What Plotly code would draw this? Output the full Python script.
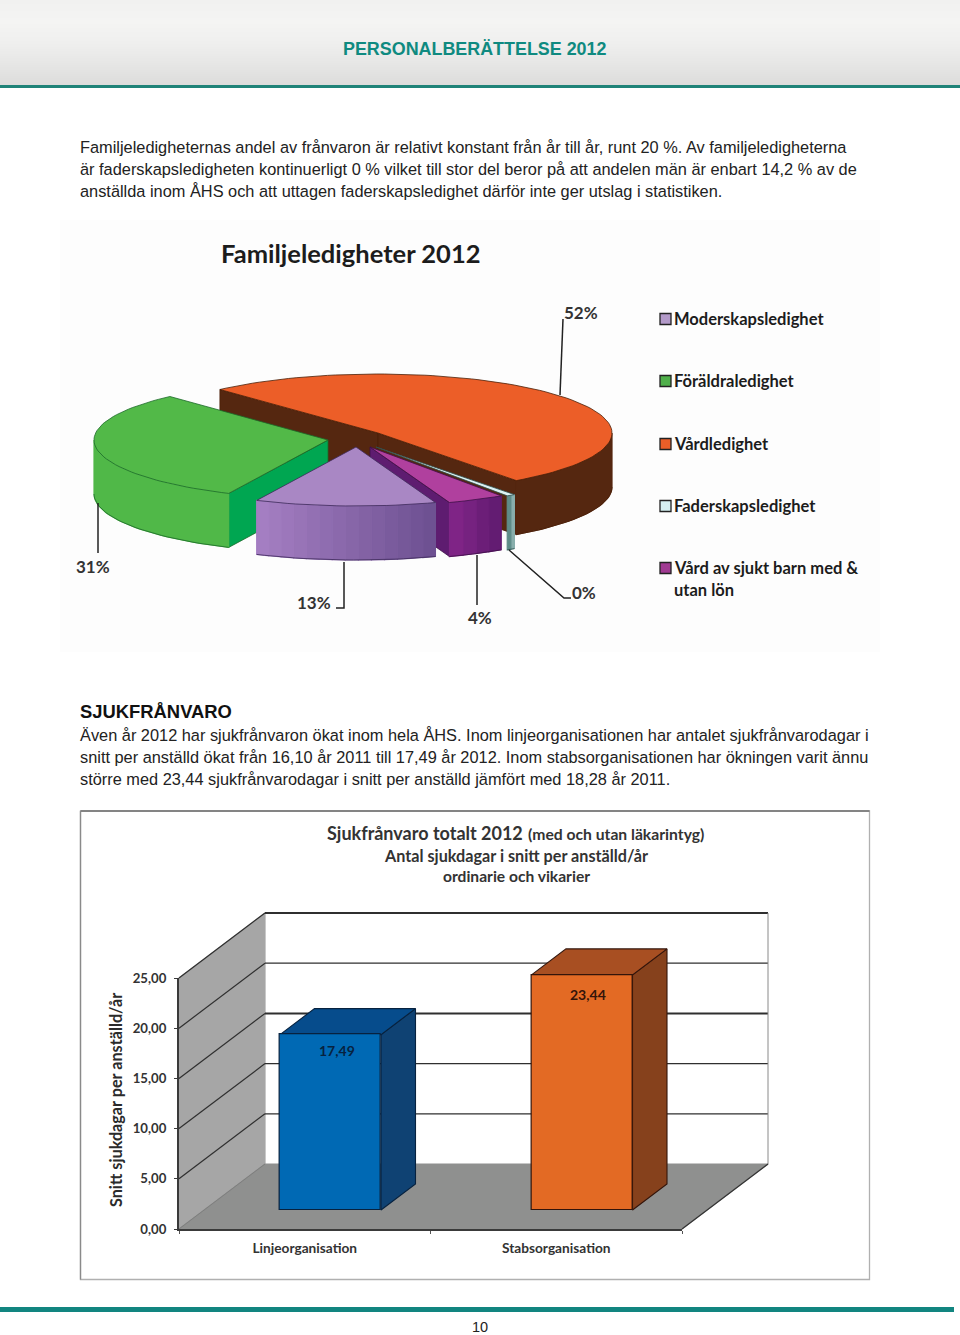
import math
import plotly.graph_objects as go

# ---------- data ----------
pie_categories = ["Vårdledighet", "Faderskapsledighet", "Vård av sjukt barn med & utan lön", "Moderskapsledighet", "Föräldraledighet"]
pie_shares = [52.2, 0.6, 4, 12.6, 31.5]
pie_labels = ["52%", "0%", "4%", "13%", "31%"]
legend_order = ["Moderskapsledighet", "Föräldraledighet", "Vårdledighet", "Faderskapsledighet", "Vård av sjukt barn med & utan lön"]
bar_categories = ["Linjeorganisation", "Stabsorganisation"]
bar_values = [17.49, 23.44]
y_ticks = [0, 5, 10, 15, 20, 25]

body_top = [
    "Familjeledigheternas andel av frånvaron är relativt konstant från år till år, runt 20 %. Av familjeledigheterna",
    "är faderskapsledigheten kontinuerligt 0 % vilket till stor del beror på att andelen män är enbart 14,2 % av de",
    "anställda inom ÅHS och att uttagen faderskapsledighet därför inte ger utslag i statistiken.",
]
body_bottom = [
    "Även år 2012 har sjukfrånvaron ökat inom hela ÅHS. Inom linjeorganisationen har antalet sjukfrånvarodagar i",
    "snitt per anställd ökat från 16,10 år 2011 till 17,49 år 2012. Inom stabsorganisationen har ökningen varit ännu",
    "större med 23,44 sjukfrånvarodagar i snitt per anställd jämfört med 18,28 år 2011.",
]

# ---------- style / layout ----------
W, H = 960, 1335
BODY = "Liberation Sans"
CHART = "Lato"
TEAL = "#0f8a80"
A, B, DEPTH = 234, 59, 54
START = -42.5
slice_style = {
    "Vårdledighet": dict(c=(378, 433), top="#EC5E28", cut="#552710", arc=("#552710", "#552710"), edge="#4a2008"),
    "Faderskapsledighet": dict(c=(376, 447), top="#DDF2F3", cut=None, arc=("#9CC0BE", "#4A7A76"), edge="#2f4f4c"),
    "Vård av sjukt barn med & utan lön": dict(c=(370, 447), top="#B0409E", cut="#5E1C70", arc=("#5E1A6E", "#84268A"), edge="#3d1048"),
    "Moderskapsledighet": dict(c=(356, 447), top="#A987C4", cut=None, arc=("#6C4F90", "#A680C4"), edge="#3d2a5a"),
    "Föräldraledighet": dict(c=(328, 440), top="#52B948", cut="#00A651", arc=("#50B848", "#50B848"), edge="#1c6a2a"),
}
legend_colors = {"Moderskapsledighet": "#B39AC9", "Föräldraledighet": "#4FAF4A", "Vårdledighet": "#EC5E28",
                 "Faderskapsledighet": "#D5F0F2", "Vård av sjukt barn med & utan lön": "#A03A92"}

fig = go.Figure()
shapes, notes = [], []


def poly(xs, ys, fill, line=None, width=0.8):
    fig.add_trace(go.Scatter(x=list(xs) + [xs[0]], y=list(ys) + [ys[0]], mode="lines", fill="toself",
                             fillcolor=fill, line=dict(color=line or fill, width=width if line else 1.2),
                             hoverinfo="skip", showlegend=False))


def path(xs, ys, color, width=1.5):
    fig.add_trace(go.Scatter(x=xs, y=ys, mode="lines", line=dict(color=color, width=width),
                             hoverinfo="skip", showlegend=False))


def text(x, y, s, size, color="#111111", family=BODY, bold=False, anchor="left", angle=0):
    notes.append(dict(x=x, y=y, xref="x", yref="y", text=s, showarrow=False, xanchor=anchor, yanchor="middle",
                      textangle=angle,
                      font=dict(family=family, size=size, color=color, weight=700 if bold else 400)))


def mix(c1, c2, t):
    a = [int(c1[i:i + 2], 16) for i in (1, 3, 5)]
    b = [int(c2[i:i + 2], 16) for i in (1, 3, 5)]
    return "#%02x%02x%02x" % tuple(round(p + (q - p) * t) for p, q in zip(a, b))


# ---------- page furniture ----------
top_band = ["#f1f1f0", "#f4f4f3", "#efefee", "#e6e6e5", "#dcdcdb"]
for y in range(0, 86):
    t = y / 85 * (len(top_band) - 1)
    i = min(int(t), len(top_band) - 2)
    shapes.append(dict(type="rect", xref="x", yref="y", x0=0, x1=W, y0=y, y1=y + 1, layer="below", line_width=0,
                       fillcolor=mix(top_band[i], top_band[i + 1], t - i)))
shapes.append(dict(type="rect", xref="x", yref="y", x0=0, x1=W, y0=85, y1=88, layer="below", line_width=0, fillcolor="#1f8378"))
shapes.append(dict(type="rect", xref="x", yref="y", x0=0, x1=954, y0=1307, y1=1312, layer="below", line_width=0, fillcolor="#128580"))
shapes.append(dict(type="rect", xref="x", yref="y", x0=60, x1=880, y0=220, y1=652, layer="below", line_width=0, fillcolor="#fdfdfd"))
text(475, 49, "PERSONALBERÄTTELSE 2012", 17.9, TEAL, bold=True, anchor="center")
for y, s in zip((147, 169, 191), body_top):
    text(78, y, s, 16.35, "#222222")
text(78, 711, "SJUKFRÅNVARO", 18.4, "#111111", bold=True)
for y, s in zip((735, 757, 779), body_bottom):
    text(78, y, s, 16.35, "#222222")
text(480, 1327, "10", 14.5, "#222222", anchor="center")

# ---------- pie, projected from the shares ----------
total = sum(pie_shares)
spans = {}
ang = START
for name, share in zip(pie_categories, pie_shares):
    spans[name] = (ang, ang + share / total * 360)
    ang = spans[name][1]


def rim(c, deg, dz=0):
    r = math.radians(deg)
    return c[0] + A * math.sin(r), c[1] - B * math.cos(r) + dz


def arc_pts(c, a0, a1, dz=0):
    n = max(3, int(abs(a1 - a0) / 2))
    pts = [rim(c, a0 + (a1 - a0) * k / n, dz) for k in range(n + 1)]
    return [p[0] for p in pts], [p[1] for p in pts]


def wall(c, deg, fill, edge):
    p = rim(c, deg)
    poly([c[0], p[0], p[0], c[0]], [c[1], p[1], p[1] + DEPTH, c[1] + DEPTH], fill, edge)


def side(c, a0, a1, cols, edge):
    a0, a1 = max(a0, 90), min(a1, 270)
    steps = 1 if cols[0] == cols[1] else max(2, int((a1 - a0) / 3))
    for k in range(steps):
        u0, u1 = a0 + (a1 - a0) * k / steps, a0 + (a1 - a0) * (k + 1) / steps
        xa, ya = arc_pts(c, u0, u1)
        xb, yb = arc_pts(c, u1, u0, DEPTH)
        poly(xa + xb, ya + yb, mix(cols[0], cols[1], (k + .5) / steps))
    xb, yb = arc_pts(c, a0, a1, DEPTH)
    path(xb, yb, edge, 0.8)


def top(c, a0, a1, fill, edge):
    xa, ya = arc_pts(c, a0, a1)
    poly([c[0]] + xa, [c[1]] + ya, fill, edge)


# painter's order, back to front
n = "Vårdledighet"; s = slice_style[n]; a0, a1 = spans[n]
wall(s["c"], a0, s["cut"], s["edge"]); wall(s["c"], a1, s["cut"], s["edge"])
side(s["c"], a0, a1, s["arc"], s["edge"])
top(s["c"], a0, a1, s["top"], s["edge"])
n = "Faderskapsledighet"; s = slice_style[n]; a0, a1 = spans[n]
side(s["c"], a0, a1, s["arc"], s["edge"]); top(s["c"], a0, a1, s["top"], s["edge"])
n = "Vård av sjukt barn med & utan lön"; s = slice_style[n]; a0, a1 = spans[n]
wall(s["c"], a1, s["cut"], s["edge"]); side(s["c"], a0, a1, s["arc"], s["edge"]); top(s["c"], a0, a1, s["top"], s["edge"])
n = "Föräldraledighet"; s = slice_style[n]; a0, a1 = spans[n]
wall(s["c"], a0, s["cut"], s["edge"]); side(s["c"], a0, a1, s["arc"], s["edge"]); top(s["c"], a0, a1, s["top"], s["edge"])
n = "Moderskapsledighet"; s = slice_style[n]; a0, a1 = spans[n]
side(s["c"], a0, a1, s["arc"], s["edge"]); top(s["c"], a0, a1, s["top"], s["edge"])

# leaders and labels
leaders = {
    "52%": ([560, 563], [395, 319], (581, 313), "center"),
    "31%": ([98, 98], [503, 553], (93, 567), "center"),
    "13%": ([344, 344, 336], [562, 608, 608], (314, 603), "center"),
    "4%": ([477, 477], [555, 605], (480, 618), "center"),
    "0%": ([509, 564, 571], [550, 598, 598], (584, 593), "center"),
}
for lab in pie_labels:
    xs, ys, pos, anc = leaders[lab]
    path(xs, ys, "#222222", 1.5)
    text(pos[0], pos[1] - 1, lab, 17, "#333333", CHART, True, anc)

text(351, 253, "Familjeledigheter 2012", 25.5, "#1c1c1c", CHART, True, "center")

# legend
legend_y = (319, 381, 444, 506, 568)
for y, name in zip(legend_y, legend_order):
    shapes.append(dict(type="rect", xref="x", yref="y", x0=660, x1=671, y0=y - 5.5, y1=y + 5.5,
                       fillcolor=legend_colors[name], line=dict(color="#222222", width=1.3)))
    label = name.replace(" & utan lön", " &") if "&" in name else name
    text(672, y, label, 16.5, "#1c1c1c", CHART, True)
text(672, 590, "utan lön", 16.5, "#1c1c1c", CHART, True)

# ---------- bar chart scene ----------
shapes.append(dict(type="rect", xref="x", yref="y", x0=80.5, x1=869.5, y0=811, y1=1279.5, layer="below",
                   line=dict(color="#b0b0b0", width=1.3), fillcolor="white"))
path([80.5, 869.5], [811, 811], "#6f6f6f", 1.5)
path([80.5, 80.5], [811, 1279.5], "#8a8a8a", 1.3)

X0, X1, Y0, PXU, DX, DY = 179, 682, 1229, 10.04, 86, -65
poly([X0, X0 + DX, X0 + DX, X0], [Y0 - 25 * PXU, Y0 - 25 * PXU + DY, Y0 + DY, Y0], "#A6A6A6")
poly([X0, X0 + DX, X1 + DX, X1], [Y0, Y0 + DY, Y0 + DY, Y0], "#8F908F")
grid_width = {5: 1.2, 10: 1.2, 15: 2, 20: 1.2, 25: 2}
for v in y_ticks[1:]:
    yv = Y0 - v * PXU
    path([X0, X0 + DX], [yv, yv + DY], "#2f2f2f", 1.2)
    path([X0 + DX, X1 + DX], [yv + DY, yv + DY], "#2f2f2f", grid_width[v])
path([X1 + DX, X1 + DX], [Y0 - 25 * PXU + DY, Y0 + DY], "#8a8a8a", 1)
path([X1, X1 + DX], [Y0, Y0 + DY], "#333333", 1.2)
path([X0, X0 + DX], [Y0, Y0 + DY], "#7a7a7a", 0.8)

# bar side and top faces, from the values
B_LEFT, B_STEP, B_W, B_Y0, B_PXU, BDX, BDY = 280, 251.5, 101, 1210, 10.03, 34.5, -26
bar_faces = [("#0069B4", "#0F4273", "#064C8C", "#07223f"), ("#E36A24", "#86411C", "#A84F22", "#33140a")]
label_drop = [-16, -20]
for i, v in enumerate(bar_values):
    lft = B_LEFT + i * B_STEP
    rgt = lft + B_W
    ytop = B_Y0 - v * B_PXU
    front, sidec, topc, edge = bar_faces[i]
    poly([rgt, rgt + BDX, rgt + BDX, rgt], [ytop, ytop + BDY, B_Y0 + BDY, B_Y0], sidec, edge, 1.1)
    poly([lft, lft + BDX, rgt + BDX, rgt], [ytop, ytop + BDY, ytop + BDY, ytop], topc, edge, 1.1)

# axis holder (front plane)
fig.add_trace(go.Scatter(x=bar_categories, y=[0, 0], mode="markers", marker=dict(opacity=0), xaxis="x2", yaxis="y2",
                         hoverinfo="skip", showlegend=False))
# front faces of the bars
fig.add_trace(go.Bar(x=bar_categories, y=bar_values, xaxis="x3", yaxis="y3", width=B_W / B_STEP,
                     marker=dict(color=[f[0] for f in bar_faces], line=dict(color=[f[3] for f in bar_faces], width=1.2)),
                     hoverinfo="skip", showlegend=False))
for i, v in enumerate(bar_values):
    notes.append(dict(x=bar_categories[i], y=v, xref="x3", yref="y3", text=f"{v:.2f}".replace(".", ","), showarrow=False,
                      xshift=6, yshift=label_drop[i], yanchor="middle",
                      font=dict(family=CHART, size=14, weight=700, color=bar_faces[i][3])))

text(525, 833, "Sjukfrånvaro totalt 2012", 18, "#333333", CHART, True, "right")
text(526, 834, "(med och utan läkarintyg)", 15.7, "#333333", CHART, True)
text(516, 855, "Antal sjukdagar i snitt per anställd/år", 16.2, "#333333", CHART, True, "center")
text(516, 876, "ordinarie och vikarier", 15.6, "#333333", CHART, True, "center")
text(115, 1100, "Snitt sjukdagar per anställd/år", 16.2, "#2b2b2b", CHART, True, "center", -90)


def xdom(a, b):
    return [a / W, b / W]


def ydom(t, b):
    return [1 - b / H, 1 - t / H]


hidden = dict(visible=False, showgrid=False, zeroline=False, fixedrange=True)
fig.update_layout(
    width=W, height=H, margin=dict(l=0, r=0, t=0, b=0, autoexpand=False), autosize=False,
    paper_bgcolor="white", plot_bgcolor="rgba(0,0,0,0)", showlegend=False, bargap=0,
    xaxis=dict(range=[0, W], domain=[0, 1], **hidden),
    yaxis=dict(range=[H, 0], domain=[0, 1], **hidden),
    xaxis2=dict(domain=xdom(X0, X1), anchor="y2", type="category", range=[-0.5, 1.5], showgrid=False, zeroline=False,
                showline=True, linecolor="#3a3a3a", linewidth=2, ticks="outside", ticklen=3, tickcolor="#555555",
                tickson="boundaries", ticklabelstandoff=6,
                tickfont=dict(family=CHART, size=13.7, weight=700, color="#333333"), fixedrange=True),
    yaxis2=dict(domain=ydom(Y0 - 25 * PXU, Y0), anchor="x2", range=[0, 25], showgrid=False, zeroline=False,
                showline=True, linecolor="#3a3a3a", linewidth=2, ticks="outside", ticklen=3, tickcolor="#3a3a3a",
                ticklabelstandoff=5,
                tickvals=y_ticks, ticktext=[f"{v:.2f}".replace(".", ",") for v in y_ticks],
                tickfont=dict(family=CHART, size=13.2, weight=700, color="#333333"), fixedrange=True),
    xaxis3=dict(domain=xdom(X0 + 25.75, X1 + 25.75), anchor="y3", type="category", range=[-0.5, 1.5], **hidden),
    yaxis3=dict(domain=ydom(B_Y0 - 25 * B_PXU, B_Y0), anchor="x3", range=[0, 25], **hidden),
    shapes=shapes, annotations=notes,
)

fig.write_html("out.html", config=dict(displayModeBar=False),
               post_script="document.body.style.margin='0';document.documentElement.style.overflow='hidden';")
